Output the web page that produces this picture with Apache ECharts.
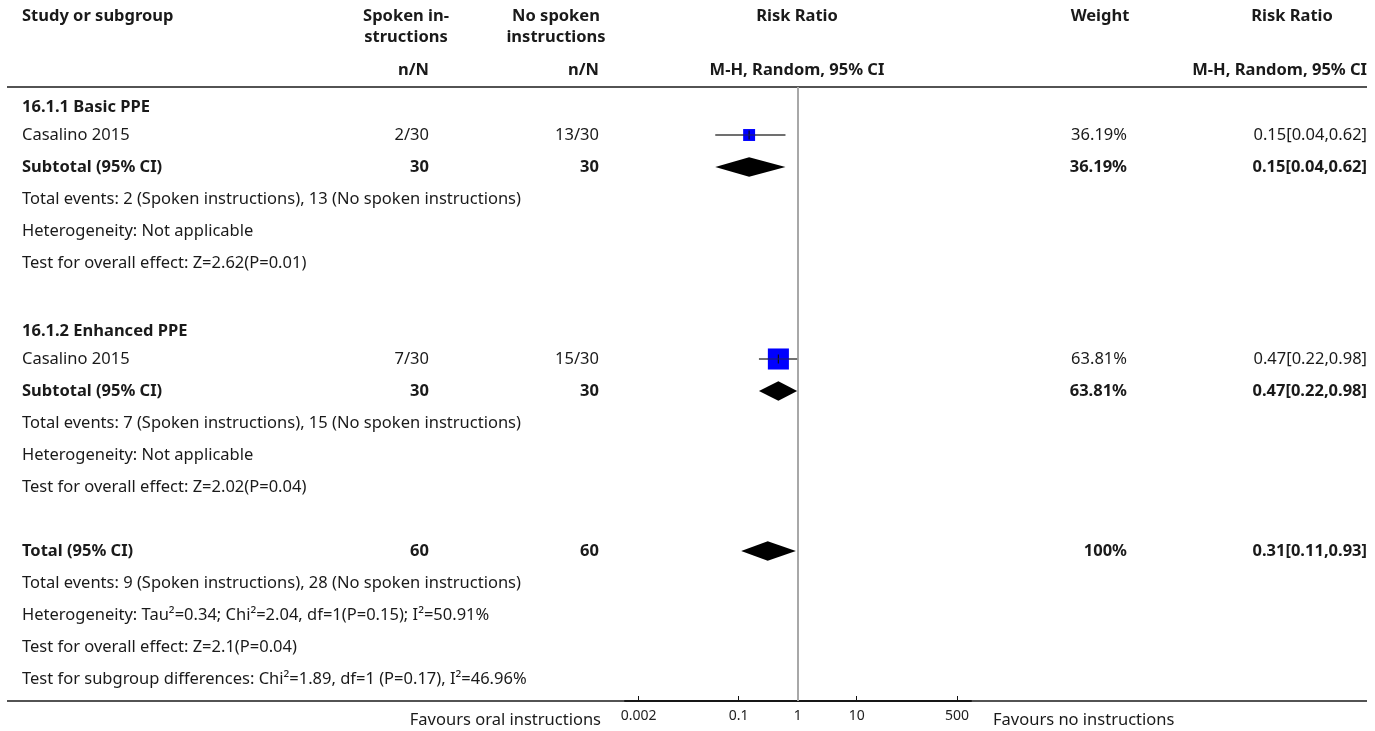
<!DOCTYPE html>
<html>
<head>
<meta charset="utf-8">
<script src="https://cdn.jsdelivr.net/npm/echarts@6/dist/echarts.min.js"></script>
<style>html,body{margin:0;padding:0;background:#fff}#chart{width:1375px;height:731px}</style>
</head>
<body>
<div id="chart"></div>
<script>
// ---------------- data ----------------
const subgroupNames = ['16.1.1 Basic PPE', '16.1.2 Enhanced PPE'];
const studyNames = ['Casalino 2015', 'Casalino 2015'];
const spokenEvents = [2, 7];
const spokenTotals = [30, 30];
const noSpokenEvents = [13, 15];
const noSpokenTotals = [30, 30];
const studyRR = [0.15, 0.47];
const studyLow = [0.04, 0.22];
const studyHigh = [0.62, 0.98];
const studyWeights = [36.19, 63.81];
const subtotalRR = [0.15, 0.47];
const subtotalLow = [0.04, 0.22];
const subtotalHigh = [0.62, 0.98];
const subtotalWeights = ['36.19%', '63.81%'];
const subgroupStats = [
  ['Total events: 2 (Spoken instructions), 13 (No spoken instructions)', 'Heterogeneity: Not applicable', 'Test for overall effect: Z=2.62(P=0.01)'],
  ['Total events: 7 (Spoken instructions), 15 (No spoken instructions)', 'Heterogeneity: Not applicable', 'Test for overall effect: Z=2.02(P=0.04)']
];
const totalN = [60, 60];
const totalRR = 0.31, totalLow = 0.11, totalHigh = 0.93;
const totalWeight = '100%';
const totalStats = [
  'Total events: 9 (Spoken instructions), 28 (No spoken instructions)',
  'Heterogeneity: Tau\u00B2=0.34; Chi\u00B2=2.04, df=1(P=0.15); I\u00B2=50.91%',
  'Test for overall effect: Z=2.1(P=0.04)',
  'Test for subgroup differences: Chi\u00B2=1.89, df=1 (P=0.17), I\u00B2=46.96%'
];
const tickValues = [0.002, 0.1, 1, 10, 500];
const axisRange = [0.00118, 866];
const favoursLeft = 'Favours oral instructions';
const favoursRight = 'Favours no instructions';

// ---------------- layout ----------------
const FONT = 'Noto Sans';
const FS = 16.5;
const GRID_TOP = 87, GRID_H = 614, GRID_LEFT = 625, GRID_W = 346;
const ROW_H = 32;
const Y_MAX = GRID_H / ROW_H;
const pyOf = (p) => GRID_TOP + p * ROW_H;
const X_NAME = 22, X_SP = 429, X_NSP = 599, X_W = 1127, X_RR = 1367;
const L = Math.log10;
const fmtRR = (r, lo, hi) => r.toFixed(2) + '[' + lo.toFixed(2) + ',' + hi.toFixed(2) + ']';

const pos = {
  head: [0.62, 7.62], study: [1.5, 8.5], sub: [2.5, 9.5], stats: [[3.5, 4.5, 5.5], [10.5, 11.5, 12.5]],
  total: 14.5, totalStats: [15.5, 16.5, 17.5, 18.5]
};

const graphics = [];
function txt(x, y, text, align, bold, size, color) {
  graphics.push({
    type: 'text', x: x, y: y, silent: true, z: 10,
    style: { text: text, fill: color || '#1a1a1a', fontFamily: FONT, fontSize: size || FS,
      fontWeight: bold ? 'bold' : 'normal', textAlign: align || 'left', textVerticalAlign: 'middle' }
  });
}
txt(X_NAME, 16, 'Study or subgroup', 'left', true);
txt(406, 16, 'Spoken in-', 'center', true);
txt(406, 37, 'structions', 'center', true);
txt(556, 16, 'No spoken', 'center', true);
txt(556, 37, 'instructions', 'center', true);
txt(X_SP, 70, 'n/N', 'right', true);
txt(X_NSP, 70, 'n/N', 'right', true);
txt(797, 16, 'Risk Ratio', 'center', true);
txt(797, 70, 'M-H, Random, 95% CI', 'center', true);
txt(1100, 16, 'Weight', 'center', true);
txt(1292, 16, 'Risk Ratio', 'center', true);
txt(X_RR, 70, 'M-H, Random, 95% CI', 'right', true);

for (let g = 0; g < 2; g++) {
  txt(X_NAME, pyOf(pos.head[g]), subgroupNames[g], 'left', true);
  const ys = pyOf(pos.study[g]);
  txt(X_NAME, ys, studyNames[g]);
  txt(X_SP, ys, spokenEvents[g] + '/' + spokenTotals[g], 'right');
  txt(X_NSP, ys, noSpokenEvents[g] + '/' + noSpokenTotals[g], 'right');
  txt(X_W, ys, studyWeights[g].toFixed(2) + '%', 'right');
  txt(X_RR, ys, fmtRR(studyRR[g], studyLow[g], studyHigh[g]), 'right');
  const yb = pyOf(pos.sub[g]);
  txt(X_NAME, yb, 'Subtotal (95% CI)', 'left', true);
  txt(X_SP, yb, String(spokenTotals[g]), 'right', true);
  txt(X_NSP, yb, String(noSpokenTotals[g]), 'right', true);
  txt(X_W, yb, subtotalWeights[g], 'right', true);
  txt(X_RR, yb, fmtRR(subtotalRR[g], subtotalLow[g], subtotalHigh[g]), 'right', true);
  subgroupStats[g].forEach((s, i) => txt(X_NAME, pyOf(pos.stats[g][i]), s));
}
const yt = pyOf(pos.total);
txt(X_NAME, yt, 'Total (95% CI)', 'left', true);
txt(X_SP, yt, String(totalN[0]), 'right', true);
txt(X_NSP, yt, String(totalN[1]), 'right', true);
txt(X_W, yt, totalWeight, 'right', true);
txt(X_RR, yt, fmtRR(totalRR, totalLow, totalHigh), 'right', true);
totalStats.forEach((s, i) => txt(X_NAME, pyOf(pos.totalStats[i]), s));
txt(601, 720, favoursLeft, 'right');
txt(993, 720, favoursRight, 'left');

const BOTTOM = GRID_TOP + GRID_H;
graphics.push({ type: 'line', silent: true, z: 1, shape: { x1: 7, y1: GRID_TOP, x2: 1367, y2: GRID_TOP }, style: { stroke: '#1a1a1a', lineWidth: 1.3 } });
graphics.push({ type: 'line', silent: true, z: 1, shape: { x1: 7, y1: BOTTOM, x2: 1367, y2: BOTTOM }, style: { stroke: '#1a1a1a', lineWidth: 1.3 } });

// ---------------- series data ----------------
const studyData = studyRR.map((r, i) => [L(r), pos.study[i], L(studyLow[i]), L(studyHigh[i]), studyWeights[i]]);
const diamondData = subtotalRR.map((r, i) => [L(r), pos.sub[i], L(subtotalLow[i]), L(subtotalHigh[i])]);
diamondData.push([L(totalRR), pos.total, L(totalLow), L(totalHigh)]);

const chart = echarts.init(document.getElementById('chart'), null, { renderer: 'canvas' });
chart.setOption({
  animation: false,
  backgroundColor: '#fff',
  grid: { left: GRID_LEFT, top: GRID_TOP, width: GRID_W, height: GRID_H, containLabel: false },
  xAxis: {
    type: 'value', min: L(axisRange[0]), max: L(axisRange[1]),
    axisLine: { show: true, onZero: false, lineStyle: { color: '#111', width: 2 } },
    axisTick: { show: true, inside: true, length: 5, customValues: tickValues.map(L), lineStyle: { color: '#111', width: 1 } },
    axisLabel: {
      customValues: tickValues.map(L), margin: 8, fontSize: 14, color: '#222', fontFamily: FONT,
      formatter: (v) => { const t = tickValues.find(t => Math.abs(L(t) - v) < 1e-6); return t === undefined ? '' : String(t); }
    },
    splitLine: { show: false }
  },
  yAxis: { type: 'value', min: 0, max: Y_MAX, inverse: true, show: false, splitLine: { show: false } },
  graphic: graphics,
  series: [
    {
      type: 'custom', name: 'studies', z: 5,
      renderItem: (params, api) => {
        const c = api.coord([api.value(0), api.value(1)]);
        const lo = api.coord([api.value(2), api.value(1)]);
        const hi = api.coord([api.value(3), api.value(1)]);
        const s = api.value(4) * 0.33;
        return { type: 'group', children: [
          { type: 'line', shape: { x1: lo[0], y1: c[1], x2: hi[0], y2: c[1] }, style: { stroke: '#404040', lineWidth: 1.5 } },
          { type: 'rect', shape: { x: c[0] - s / 2, y: c[1] - s / 2, width: s, height: s }, style: { fill: '#0000ff' } },
          { type: 'line', shape: { x1: c[0], y1: c[1] - 4.5, x2: c[0], y2: c[1] + 4.5 }, style: { stroke: '#111', lineWidth: 1.2 } },
          { type: 'line', shape: { x1: c[0] - s / 2, y1: c[1], x2: c[0] + s / 2, y2: c[1] }, style: { stroke: '#202060', lineWidth: 1 } }
        ] };
      },
      data: studyData,
      markLine: {
        silent: true, symbol: 'none', label: { show: false }, animation: false,
        lineStyle: { color: '#a8a8a8', width: 2, type: 'solid' },
        data: [{ xAxis: 0 }]
      }
    },
    {
      type: 'custom', name: 'diamonds', z: 6,
      renderItem: (params, api) => {
        const c = api.coord([api.value(0), api.value(1)]);
        const lo = api.coord([api.value(2), api.value(1)]);
        const hi = api.coord([api.value(3), api.value(1)]);
        const h = 9.8;
        return { type: 'polygon', shape: { points: [[lo[0], c[1]], [c[0], c[1] - h], [hi[0], c[1]], [c[0], c[1] + h]] }, style: { fill: '#000' } };
      },
      data: diamondData
    }
  ]
});
</script>
</body>
</html>
